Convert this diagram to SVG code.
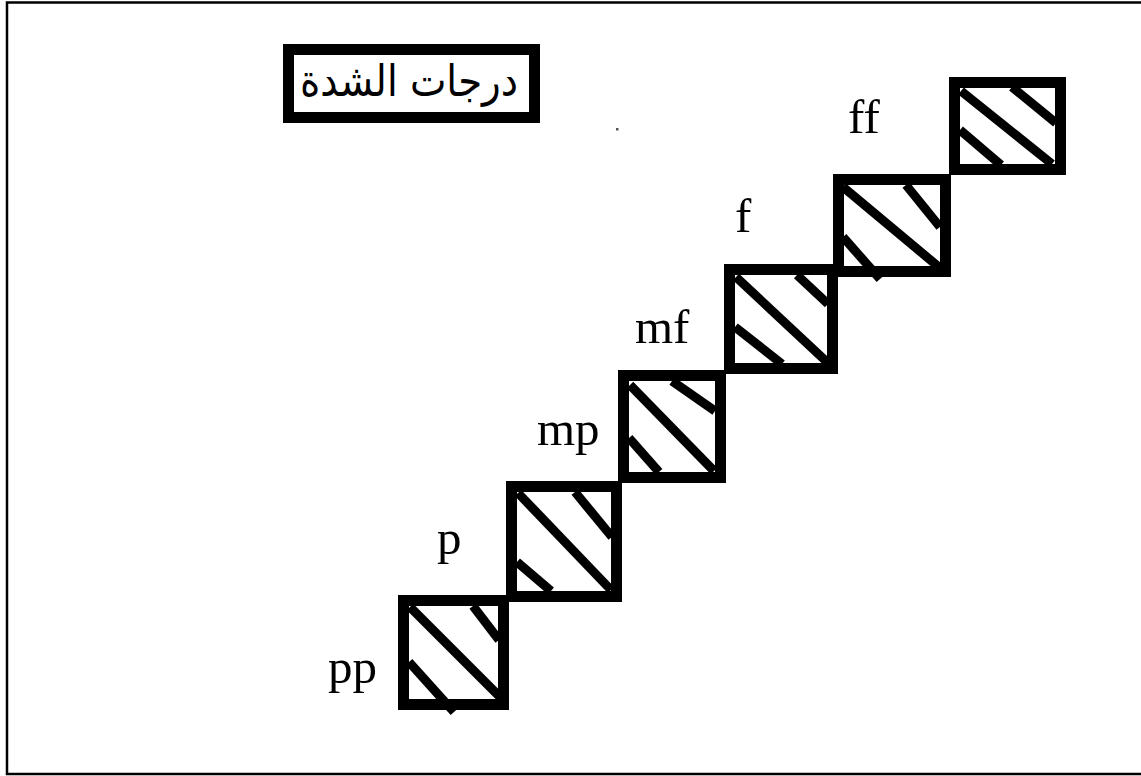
<svg xmlns="http://www.w3.org/2000/svg" width="1141" height="776" viewBox="0 0 1141 776">
<style>
.box{fill:none;stroke:#000;stroke-width:11}
.hatch{stroke:#000;stroke-width:9;stroke-linecap:butt}
.lbl{font-family:"Liberation Serif","Times New Roman",serif;font-size:49px;fill:#000}
.title{font-family:"DejaVu Sans","Liberation Sans",sans-serif;font-size:44px;fill:#000}
</style>
<rect x="0" y="0" width="1141" height="776" fill="#fff"/>
<path d="M1141 2.5 H7 V774 H1141" fill="none" stroke="#000" stroke-width="2.5"/>
<g id="title">
<rect class="box" x="288.5" y="49.5" width="246" height="68"/>
<text class="title" x="409" y="96" text-anchor="middle" direction="rtl" textLength="218" lengthAdjust="spacingAndGlyphs">درجات الشدة</text>
</g>
<rect x="616" y="128" width="2.5" height="2.5" fill="#555"/>
<g id="pp">
<rect class="box" x="403.5" y="600.5" width="100" height="104"/>
<line class="hatch" x1="410" y1="607" x2="500" y2="697"/>
<line class="hatch" x1="473" y1="606" x2="499" y2="640"/>
<line class="hatch" x1="409" y1="662" x2="454" y2="712"/>
<text class="lbl" x="328" y="683">pp</text>
</g>
<g id="p">
<rect class="box" x="511.5" y="486.5" width="105" height="110"/>
<line class="hatch" x1="518" y1="493" x2="611" y2="590"/>
<line class="hatch" x1="575" y1="492" x2="612" y2="537"/>
<line class="hatch" x1="517" y1="562" x2="551" y2="591"/>
<text class="lbl" x="437" y="554">p</text>
</g>
<g id="mp">
<rect class="box" x="623.5" y="375.5" width="97" height="102"/>
<line class="hatch" x1="630" y1="385" x2="714" y2="471"/>
<line class="hatch" x1="672" y1="381" x2="715" y2="411"/>
<line class="hatch" x1="629" y1="438" x2="659" y2="472"/>
<text class="lbl" x="537" y="445">mp</text>
</g>
<g id="mf">
<rect class="box" x="729.5" y="269.5" width="103" height="99"/>
<line class="hatch" x1="736" y1="277" x2="828" y2="363"/>
<line class="hatch" x1="797" y1="275" x2="828" y2="304"/>
<line class="hatch" x1="735" y1="327" x2="782" y2="364"/>
<text class="lbl" x="635" y="343">mf</text>
</g>
<g id="f">
<rect class="box" x="838.5" y="179.5" width="107" height="92"/>
<line class="hatch" x1="843" y1="187" x2="940" y2="268"/>
<line class="hatch" x1="906" y1="185" x2="940" y2="227"/>
<line class="hatch" x1="843" y1="237" x2="880" y2="279"/>
<text class="lbl" x="735" y="232">f</text>
</g>
<g id="ff">
<rect class="box" x="954.5" y="82.5" width="106" height="87"/>
<line class="hatch" x1="961" y1="91" x2="1052" y2="164"/>
<line class="hatch" x1="1012" y1="87" x2="1056" y2="123"/>
<line class="hatch" x1="960" y1="130" x2="1001" y2="165"/>
<text class="lbl" x="848" y="133">ff</text>
</g>
</svg>
